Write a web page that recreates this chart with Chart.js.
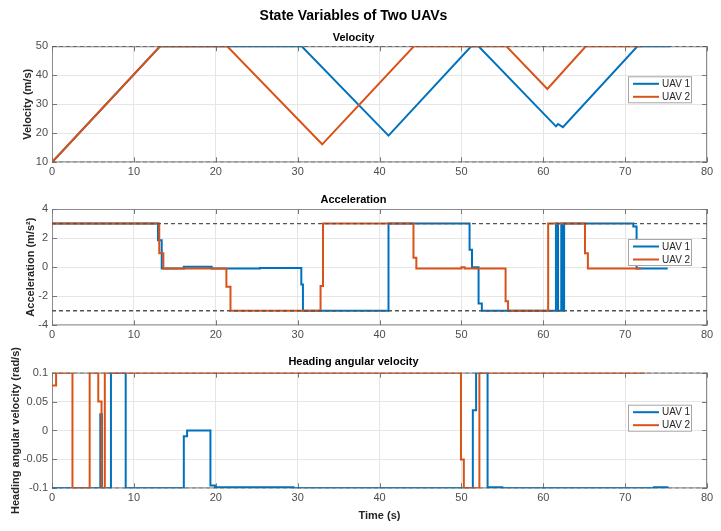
<!DOCTYPE html>
<html>
<head>
<meta charset="utf-8">
<title>State Variables of Two UAVs</title>
<script src="https://cdn.jsdelivr.net/npm/chart.js@4.4.1/dist/chart.umd.min.js"></script>
<style>
  html, body { margin: 0; padding: 0; background: #fff; }
  #page { position: relative; width: 721px; height: 531px; overflow: hidden; }
  .panel { position: absolute; left: 0; width: 721px; }
</style>
</head>
<body>
<div id="page">
  <div class="panel" style="top:0;height:182px"><canvas id="velChart"></canvas></div>
  <div class="panel" style="top:182px;height:160px"><canvas id="accChart"></canvas></div>
  <div class="panel" style="top:342px;height:189px"><canvas id="yawChart"></canvas></div>
</div>
<script>
// ---- data ----
const seriesNames = ['UAV 1', 'UAV 2'];
const timeTicks = [0, 10, 20, 30, 40, 50, 60, 70, 80];

// velocity (m/s), piecewise linear
const velTime1 = [0, 13.2, 30.5, 41.1, 51.2, 52.1, 61.55, 61.8, 62.4, 71.5, 75.5];
const velUav1  = [10, 50, 50, 19.2, 50, 50, 22.4, 23.2, 22.1, 50, 50];
const velTime2 = [0, 13.2, 21.4, 33.0, 44.2, 55.5, 60.5, 65.2, 72.0];
const velUav2  = [10, 50, 50, 16.2, 50, 50, 35.3, 50, 50];
const velLimits = [50, 10];

// acceleration (m/s^2), value held from each time until the next
const accTime1 = [0, 12.95, 13.4, 16.1, 19.5, 25.4, 30.45, 30.65, 41.1, 51.0, 51.3, 52.1, 52.5,
                  61.55, 61.8, 62.2, 62.4, 62.55, 71.0, 71.4, 75.2];
const accUav1  = [3, 1.85, -0.1, 0.02, -0.1, -0.06, -1.2, -3, 3, 1.2, 0, -2.5, -3,
                  3, -3, 3, -3, 3, 2.8, -0.1, -0.1];
const accTime2 = [0, 13.1, 13.6, 21.3, 21.8, 32.8, 33.1, 44.15, 44.5, 50.0, 50.4, 55.4, 55.7,
                  60.6, 65.1, 65.45, 72.0];
const accUav2  = [3, 0.95, -0.1, -1.35, -3, -1.3, 3, 0.65, -0.1, 0, -0.1, -2.35, -3,
                  3, 0.95, -0.1, -0.1];
const accLimits = [3, -3];

// heading angular velocity (rad/s), value held from each time until the next
const yawTime1 = [0, 5.9, 6.1, 7.2, 9.0, 16.1, 16.5, 19.35, 19.9, 29.5, 51.4, 51.8, 53.2, 55.0, 73.5, 75.3];
const yawUav1  = [-0.1, 0.028, -0.1, 0.1, -0.1, -0.01, 0, -0.095, -0.098, -0.1, 0.035, 0.1, -0.098, -0.1, -0.098, -0.098];
const yawTime2 = [0, 0.5, 2.5, 4.6, 5.65, 6.05, 6.45, 49.95, 50.3, 52.2, 72.4];
const yawUav2  = [0.078, 0.1, -0.1, 0.1, 0.05, -0.1, 0.1, -0.05, -0.1, 0.1, 0.1];
const yawLimits = [0.1, -0.1];

const blue = '#0072BD';
const orange = '#D95319';
const tickColor = '#4d4d4d';
const fontFamily = '"Liberation Sans", Arial, Helvetica, sans-serif';

Chart.defaults.font.family = fontFamily;

function toPoints(t, v) {
  return t.map((x, i) => ({ x: x, y: v[i] }));
}

// turn "value from time t[i]" into a stair line
function toSteps(t, v) {
  const pts = [];
  t.forEach((x, i) => {
    if (i > 0) pts.push({ x: x, y: v[i - 1] });
    pts.push({ x: x, y: v[i] });
  });
  return pts;
}

function limitLine(y) {
  return {
    label: '',
    data: [{ x: timeTicks[0], y: y }, { x: timeTicks[timeTicks.length - 1], y: y }],
    borderColor: '#555555',
    borderWidth: 1.3,
    borderDash: [4, 3],
    showLine: true,
    pointRadius: 0,
    order: 0
  };
}

function uavLine(name, pts, color, order) {
  return {
    label: name,
    data: pts,
    borderColor: color,
    backgroundColor: color,
    borderWidth: 2,
    borderJoinStyle: 'miter',
    showLine: true,
    pointRadius: 0,
    tension: 0,
    order: order
  };
}

// axes box with small inward ticks, like the original figure
const boxPlugin = {
  id: 'axesBox',
  beforeDatasetsDraw(chart) {
    const { ctx, chartArea: a, scales } = chart;
    ctx.save();
    ctx.strokeStyle = '#8c8c8c';
    ctx.lineWidth = 1;
    ctx.strokeRect(a.left + 0.5, a.top + 0.5, a.right - a.left - 1, a.bottom - a.top - 1);
    ctx.strokeStyle = '#777777';
    ctx.beginPath();
    scales.x.ticks.forEach(t => {
      const px = Math.round(scales.x.getPixelForValue(t.value)) + 0.5;
      ctx.moveTo(px, a.bottom); ctx.lineTo(px, a.bottom - 5);
      ctx.moveTo(px, a.top); ctx.lineTo(px, a.top + 5);
    });
    scales.y.ticks.forEach(t => {
      const py = Math.round(scales.y.getPixelForValue(t.value)) + 0.5;
      ctx.moveTo(a.left, py); ctx.lineTo(a.left + 5, py);
      ctx.moveTo(a.right, py); ctx.lineTo(a.right - 5, py);
    });
    ctx.stroke();
    ctx.restore();
  }
};

// legend box inside the axes, right side
const insideLegend = {
  id: 'insideLegend',
  afterDraw(chart, args, opts) {
    const { ctx, chartArea: a } = chart;
    const items = chart.data.datasets.filter(d => d.label);
    const w = 64, h = 27;
    const x0 = a.right - 15 - w;
    const y0 = a.top + opts.offsetTop;
    ctx.save();
    ctx.fillStyle = '#ffffff';
    ctx.fillRect(x0, y0, w, h);
    ctx.strokeStyle = '#a6a6a6';
    ctx.lineWidth = 1;
    ctx.strokeRect(x0 + 0.5, y0 + 0.5, w - 1, h - 1);
    ctx.font = '10px ' + fontFamily;
    ctx.textBaseline = 'middle';
    items.forEach((d, i) => {
      const yy = y0 + 7.5 + i * 13;
      ctx.strokeStyle = d.borderColor;
      ctx.lineWidth = 2;
      ctx.beginPath();
      ctx.moveTo(x0 + 5, yy);
      ctx.lineTo(x0 + 31, yy);
      ctx.stroke();
      ctx.fillStyle = '#262626';
      ctx.fillText(d.label, x0 + 34, yy + 0.5);
    });
    ctx.restore();
  }
};

function makeChart(id, cfg) {
  const xScale = {
    type: 'linear',
    min: timeTicks[0],
    max: timeTicks[timeTicks.length - 1],
    ticks: { stepSize: 10, color: tickColor, font: { size: 11 }, padding: 3 },
    grid: { color: '#e6e6e6', drawTicks: false },
    border: { display: false },
    afterFit: s => { s.height = cfg.xHeight; }
  };
  if (cfg.xTitle) {
    xScale.title = {
      display: true, text: cfg.xTitle, color: '#262626',
      font: { size: 11, weight: 'bold' }, padding: { top: 0, bottom: 8.4 }
    };
  }
  const plugins = {
    legend: { display: false },
    tooltip: { enabled: false },
    insideLegend: { offsetTop: cfg.legendTop },
    title: {
      display: true, text: cfg.title, color: '#000000',
      font: { size: cfg.titleSize, weight: 'bold' }, padding: cfg.titlePad
    }
  };
  if (cfg.subtitle) {
    plugins.subtitle = {
      display: true, text: cfg.subtitle, color: '#000000',
      font: { size: 11, weight: 'bold' }, padding: cfg.subtitlePad
    };
  }
  return new Chart(document.getElementById(id), {
    type: 'scatter',
    data: {
      datasets: [
        uavLine(seriesNames[0], cfg.line1, blue, 2),
        uavLine(seriesNames[1], cfg.line2, orange, 1),
        limitLine(cfg.limits[0]),
        limitLine(cfg.limits[1])
      ]
    },
    options: {
      animation: false,
      responsive: true,
      maintainAspectRatio: false,
      events: [],
      layout: { padding: { left: 0, right: 14, top: 0, bottom: 0 } },
      plugins: plugins,
      scales: {
        x: xScale,
        y: {
          min: cfg.yMin, max: cfg.yMax,
          ticks: {
            stepSize: cfg.yStep, color: tickColor, font: { size: 11 }, padding: 4,
            callback: v => String(+v.toFixed(2))
          },
          grid: { color: '#e6e6e6', drawTicks: false },
          border: { display: false },
          title: {
            display: true, text: cfg.yTitle, color: '#262626',
            font: { size: 11, weight: 'bold' }, padding: { top: cfg.yTitlePad, bottom: 0 }
          },
          afterFit: s => { s.width = 52; }
        }
      }
    },
    plugins: [boxPlugin, insideLegend]
  });
}

makeChart('velChart', {
  title: 'State Variables of Two UAVs', titleSize: 14,
  titlePad: { top: 7.6, bottom: 7 },
  subtitle: 'Velocity', subtitlePad: { top: 0, bottom: 1.7 },
  line1: toPoints(velTime1, velUav1), line2: toPoints(velTime2, velUav2),
  limits: velLimits, yMin: 10, yMax: 50, yStep: 10,
  yTitle: 'Velocity (m/s)', yTitlePad: 21.4,
  xHeight: 19.7, legendTop: 30
});

makeChart('accChart', {
  title: 'Acceleration', titleSize: 11,
  titlePad: { top: 11.4, bottom: 2.4 },
  line1: toSteps(accTime1, accUav1), line2: toSteps(accTime2, accUav2),
  limits: accLimits, yMin: -4, yMax: 4, yStep: 2,
  yTitle: 'Acceleration (m/s\u00B2)', yTitlePad: 24.4,
  xHeight: 16.7, legendTop: 30
});

makeChart('yawChart', {
  title: 'Heading angular velocity', titleSize: 11,
  titlePad: { top: 13.4, bottom: 4.1 },
  line1: toSteps(yawTime1, yawUav1), line2: toSteps(yawTime2, yawUav2),
  limits: yawLimits, yMin: -0.1, yMax: 0.1, yStep: 0.05,
  yTitle: 'Heading angular velocity (rad/s)', yTitlePad: 9.4,
  xTitle: 'Time (s)',
  xHeight: 42.7, legendTop: 32
});
</script>
</body>
</html>
